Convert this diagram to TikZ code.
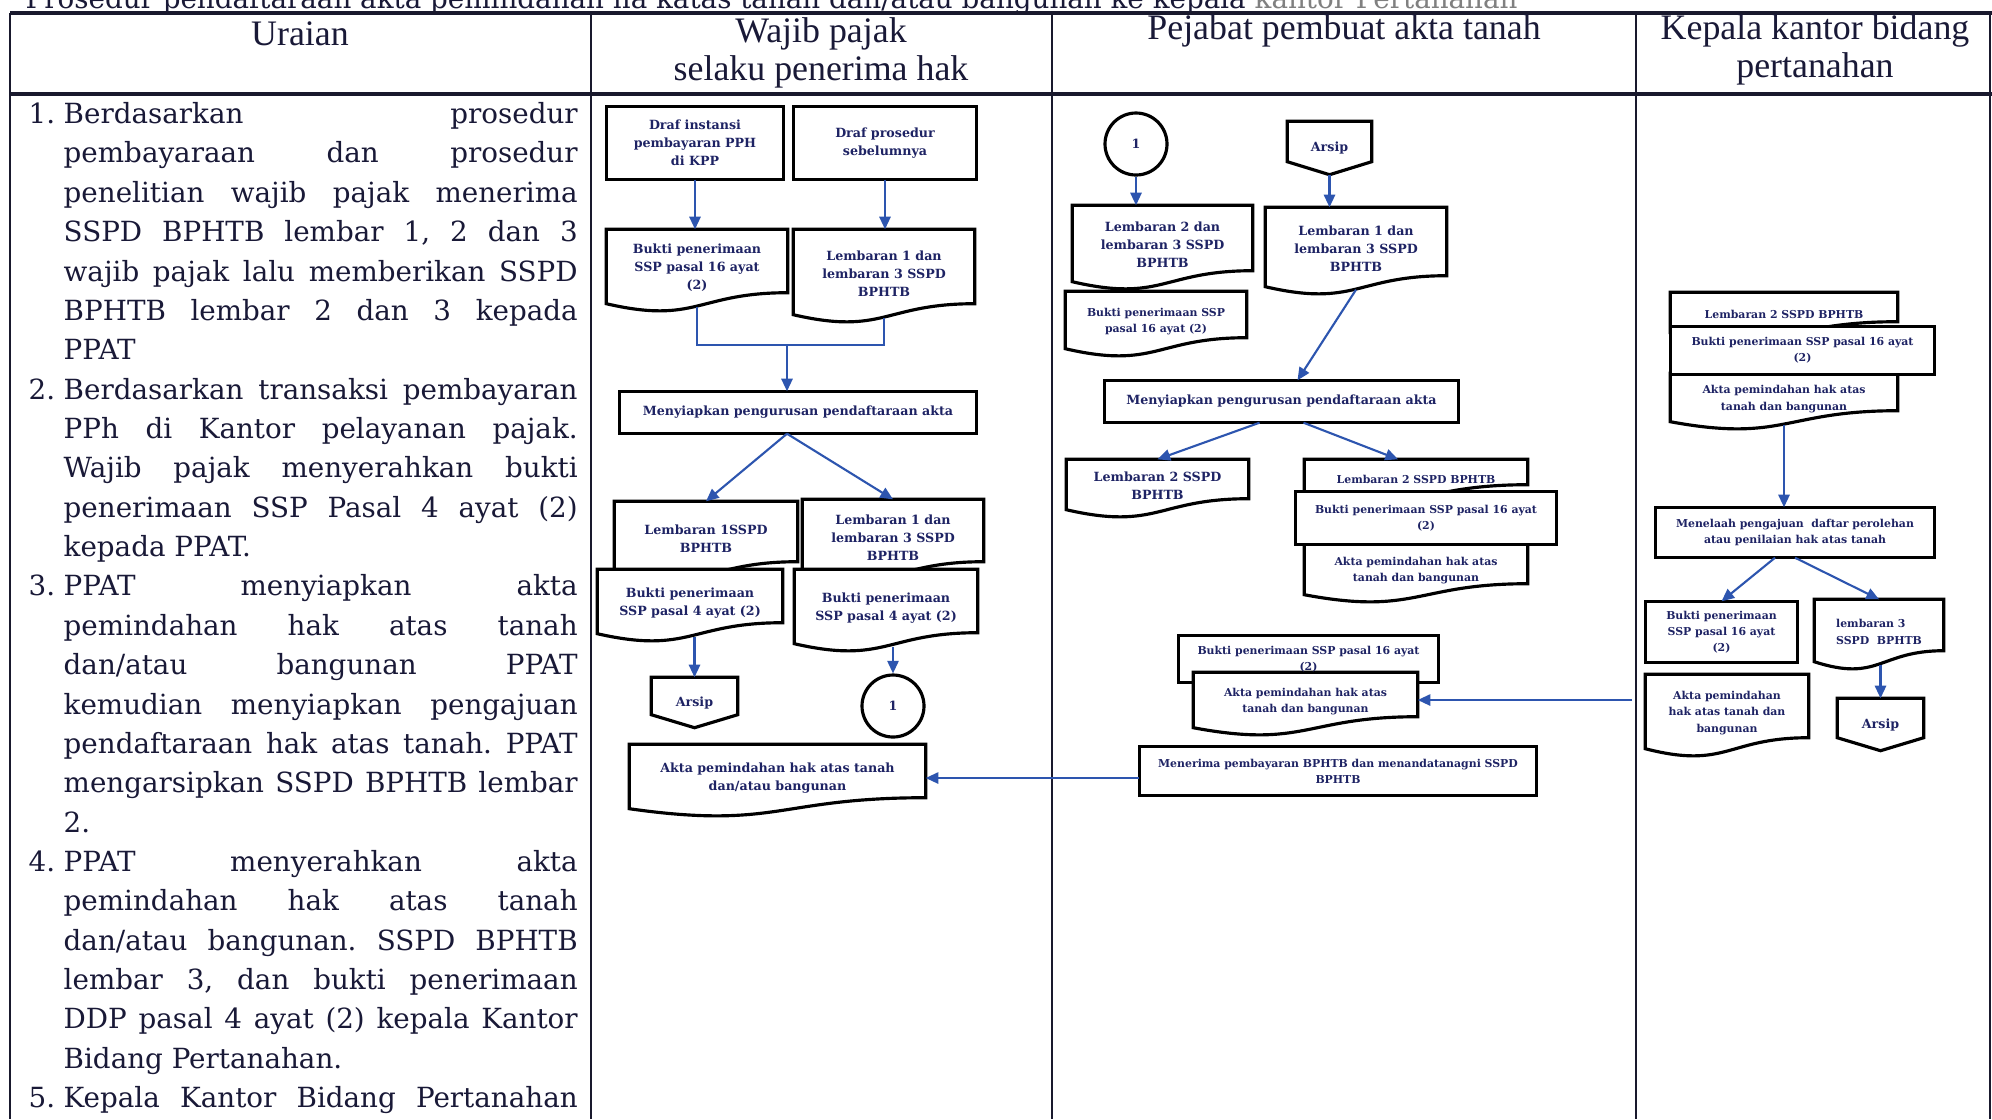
\documentclass[tikz,border=0pt]{standalone}
\usepackage{fontspec}
\setmainfont{DejaVu Serif}
\newfontfamily\headfam{Liberation Serif}
\usetikzlibrary{arrows.meta,calc,backgrounds}

\definecolor{navy}{RGB}{30,35,100}
\definecolor{inkblue}{RGB}{45,85,175}
\definecolor{rulecol}{RGB}{25,25,45}
\definecolor{bodyink}{RGB}{25,25,55}

\newcommand\bodyfont{\fontsize{7.9}{11.2}\selectfont}
\newcommand\headfont{\headfam\fontsize{10.2}{10.8}\selectfont}
\newcommand\boxfont{\bfseries\fontsize{3.6}{5.1}\selectfont}
\newcommand\smallboxfont{\bfseries\fontsize{3.1}{4.6}\selectfont}
\newcommand\num[1]{\leavevmode\llap{\makebox[0.35cm][l]{#1}}}

\begin{document}
\begin{tikzpicture}[y=-1cm,
	txt/.style={inner sep=0pt, align=center, font=\boxfont, text=navy},
	smalltxt/.style={txt, font=\smallboxfont},
	conn/.style={circle, draw=black, line width=0.9pt, fill=white, minimum size=0.62cm, inner sep=0pt, font=\boxfont, text=navy},
	boxline/.style={draw=black, line width=0.9pt, fill=white},
	tabline/.style={draw=rulecol, line width=0.8pt},
	arr/.style={draw=inkblue, line width=0.6pt, -{Triangle[length=3.6pt,width=3.2pt]}},
	link/.style={draw=inkblue, line width=0.6pt},
	head/.style={font=\headfont, text=bodyink, align=center, inner sep=0pt}]
	\path[use as bounding box] (0,0) rectangle (19.92,11.19);
	\clip (0,0) rectangle (19.92,11.19);
	
	%TABLE
	\node[anchor=base west, inner sep=0pt, font=\bodyfont, text=bodyink] (caption) at (0.25,0.08) {Prosedur pendaftaraan akta pemindahan ha katas tanah dan/atau bangunan ke kepala \textcolor{gray}{kantor Pertanahan}};
	\draw[tabline, line width=1.1pt] (0.10,0.13) -- (19.92,0.13);
	\draw[tabline, line width=1.3pt] (0.10,0.94) -- (19.92,0.94);
	\foreach \x in {0.10,5.91,10.52,16.36,19.90} \draw[tabline] (\x,0.13) -- (\x,11.19);
	
	%HEADER
	\node[head] (hUraian) at (3.00,0.34) {Uraian};
	\node[head] (hWajib) at (8.21,0.53) {Wajib pajak\\selaku penerima hak};
	\node[head] (hPejabat) at (13.44,0.31) {Pejabat pembuat akta tanah};
	\node[head] (hKepala) at (18.15,0.50) {Kepala kantor bidang\\pertanahan};
	
	%URAIAN
	\node[anchor=north west, inner sep=0pt, text width=5.14cm, align=justify, font=\bodyfont, text=bodyink] (uraian) at (0.63,0.953) {%
	\tolerance=10000 \hbadness=10000 \frenchspacing
	\strut\num{1.}Berdasarkan prosedur\linebreak
	pembayaraan dan prosedur\linebreak
	penelitian wajib pajak menerima\linebreak
	SSPD BPHTB lembar 1, 2 dan 3\linebreak
	wajib pajak lalu memberikan SSPD\linebreak
	BPHTB lembar 2 dan 3 kepada\linebreak
	PPAT\par
	\num{2.}Berdasarkan transaksi pembayaran\linebreak
	PPh di Kantor pelayanan pajak.\linebreak
	Wajib pajak menyerahkan bukti\linebreak
	penerimaan SSP Pasal 4 ayat (2)\linebreak
	kepada PPAT.\par
	\num{3.}PPAT menyiapkan akta\linebreak
	pemindahan hak atas tanah\linebreak
	dan/atau bangunan PPAT\linebreak
	kemudian menyiapkan pengajuan\linebreak
	pendaftaraan hak atas tanah. PPAT\linebreak
	mengarsipkan SSPD BPHTB lembar\linebreak
	2.\par
	\num{4.}PPAT menyerahkan akta\linebreak
	pemindahan hak atas tanah\linebreak
	dan/atau bangunan. SSPD BPHTB\linebreak
	lembar 3, dan bukti penerimaan\linebreak
	DDP pasal 4 ayat (2) kepala Kantor\linebreak
	Bidang Pertanahan.\par
	\num{5.}Kepala Kantor Bidang Pertanahan\linebreak
	\mbox{}};
	
	%WAJIB PAJAK
	\node[txt, minimum width=1.76cm, minimum height=0.72cm] (A) at (6.95,1.43) {Draf instansi\\pembayaran PPH\\di KPP};
	\node[txt, minimum width=1.82cm, minimum height=0.72cm] (B) at (8.85,1.43) {Draf prosedur\\sebelumnya};
	\node[txt, minimum width=1.80cm, minimum height=0.76cm] (C) at (6.97,2.68) {Bukti penerimaan\\SSP pasal 16 ayat\\(2)};
	\node[txt, minimum width=1.80cm, minimum height=0.87cm] (D) at (8.84,2.735) {Lembaran 1 dan\\lembaran 3 SSPD\\BPHTB};
	\node[txt, minimum width=3.56cm, minimum height=0.41cm] (E) at (7.98,4.125) {Menyiapkan pengurusan pendaftaraan akta};
	\node[txt, minimum width=1.82cm, minimum height=0.73cm] (F) at (7.06,5.385) {Lembaran 1SSPD\\BPHTB};
	\node[txt, minimum width=1.80cm, minimum height=0.75cm] (G) at (8.93,5.375) {Lembaran 1 dan\\lembaran 3 SSPD\\BPHTB};
	\node[txt, minimum width=1.84cm, minimum height=0.66cm] (H) at (6.90,6.03) {Bukti penerimaan\\SSP pasal 4 ayat (2)};
	\node[txt, minimum width=1.82cm, minimum height=0.76cm] (I) at (8.86,6.08) {Bukti penerimaan\\SSP pasal 4 ayat (2)};
	\node[txt, minimum width=0.85cm, minimum height=0.49cm] (J) at (6.945,7.025) {Arsip};
	\node[conn] (K) at (8.93,7.06) {1};
	\node[txt, minimum width=2.95cm, minimum height=0.66cm] (L) at (7.775,7.78) {Akta pemindahan hak atas tanah\\dan/atau bangunan};
	
	%PEJABAT PEMBUAT AKTA TANAH
	\node[conn] (M) at (11.36,1.44) {1};
	\node[txt, minimum width=0.83cm, minimum height=0.52cm] (N) at (13.295,1.48) {Arsip};
	\node[txt, minimum width=1.79cm, minimum height=0.78cm] (O) at (11.625,2.45) {Lembaran 2 dan\\lembaran 3 SSPD\\BPHTB};
	\node[txt, minimum width=1.80cm, minimum height=0.81cm] (P) at (13.56,2.485) {Lembaran 1 dan\\lembaran 3 SSPD\\BPHTB};
	\node[smalltxt, minimum width=1.80cm, minimum height=0.59cm] (Q) at (11.56,3.215) {Bukti penerimaan SSP\\pasal 16 ayat (2)};
	\node[txt, minimum width=3.53cm, minimum height=0.41cm] (R) at (12.815,4.015) {Menyiapkan pengurusan pendaftaraan akta};
	\node[txt, minimum width=1.81cm, minimum height=0.52cm] (S) at (11.575,4.86) {Lembaran 2 SSPD\\BPHTB};
	\node[smalltxt, minimum width=2.22cm, minimum height=0.38cm] (T) at (14.16,4.79) {Lembaran 2 SSPD BPHTB};
	\node[smalltxt, minimum width=2.60cm, minimum height=0.52cm] (U) at (14.26,5.18) {Bukti penerimaan SSP pasal 16 ayat\\(2)};
	\node[smalltxt, minimum width=2.22cm, minimum height=0.53cm] (V) at (14.16,5.705) {Akta pemindahan hak atas\\tanah dan bangunan};
	\node[smalltxt, minimum width=2.59cm, minimum height=0.46cm] (W) at (13.085,6.59) {Bukti penerimaan SSP pasal 16 ayat\\(2)};
	\node[smalltxt, minimum width=2.23cm, minimum height=0.57cm] (X) at (13.055,7.015) {Akta pemindahan hak atas\\tanah dan bangunan};
	\node[smalltxt, minimum width=3.96cm, minimum height=0.48cm] (Y) at (13.38,7.71) {Menerima pembayaran BPHTB dan menandatanagni SSPD\\BPHTB};
	
	%KEPALA KANTOR
	\node[smalltxt, minimum width=2.26cm, minimum height=0.42cm] (Z1) at (17.84,3.14) {Lembaran 2 SSPD BPHTB};
	\node[smalltxt, minimum width=2.63cm, minimum height=0.47cm] (Z2) at (18.025,3.505) {Bukti penerimaan SSP pasal 16 ayat\\(2)};
	\node[smalltxt, minimum width=2.26cm, minimum height=0.50cm] (Z3) at (17.84,3.99) {Akta pemindahan hak atas\\tanah dan bangunan};
	\node[smalltxt, minimum width=2.78cm, minimum height=0.49cm] (Z4) at (17.95,5.325) {Menelaah pengajuan\ \ daftar perolehan\\atau penilaian hak atas tanah};
	\node[smalltxt, minimum width=1.51cm, minimum height=0.60cm] (Z5) at (17.215,6.32) {Bukti penerimaan\\SSP pasal 16 ayat\\(2)};
	\node[smalltxt, minimum width=1.28cm, minimum height=0.64cm, align=left] (Z6) at (18.79,6.32) {lembaran 3\\SSPD\ \ BPHTB};
	\node[smalltxt, minimum width=1.62cm, minimum height=0.76cm] (Z7) at (17.27,7.13) {Akta pemindahan\\hak atas tanah dan\\bangunan};
	\node[txt, minimum width=0.85cm, minimum height=0.51cm] (Z8) at (18.805,7.245) {Arsip};
	
	%ARROWS
	\coordinate (cd) at (7.87,3.45);
	\coordinate (kin) at (16.32,7.0);
	\draw[arr] (A.south) -- (A.south |- C.north);
	\draw[arr] (B.south) -- (B.south |- D.north);
	\draw[link] (C.south) -- (C.south |- cd) -- (D.south |- cd) -- (D.south);
	\draw[arr] (cd) -- (cd |- E.north);
	\draw[arr] (cd |- E.south) -- (F.north);
	\draw[arr] (cd |- E.south) -- (G.north);
	\draw[arr] (J.north |- H.south) -- (J.north);
	\draw[arr] (K.north |- I.south) -- (K.north);
	\draw[arr] (Y.west |- L.east) -- (L.east);
	\draw[arr] (M.south) -- (M.south |- O.north);
	\draw[arr] (N.south) -- (N.south |- P.north);
	\draw[arr] (P.south) -- ([xshift=1.6mm]R.north);
	\draw[arr] ([xshift=-2.2mm]R.south) -- (S.north);
	\draw[arr] ([xshift=2.2mm]R.south) -- ([xshift=-1.8mm]T.north);
	\draw[arr] (kin) -- (kin -| X.east);
	\draw[arr] (Z3.south) -- (Z3.south |- Z4.north);
	\draw[arr] ([xshift=-2mm]Z4.south) -- (Z5.north);
	\draw[arr] (Z4.south) -- (Z6.north);
	\draw[arr] (Z8.north |- Z6.south) -- (Z8.north);
	
	%SHAPES
	\begin{pgfonlayer}{background}
	\fill[white] (0,0) rectangle (19.92,11.19);
	\foreach \n in {A,B,E,R,W,Y,Z4,Z5} \draw[boxline] (\n.north west) rectangle (\n.south east);
	\foreach \n in {C,D,F,G,H,I,L,O,P,Q,S,T,V,X,Z1,Z3,Z6,Z7} \draw[boxline] (\n.north west) -- (\n.north east) -- ($(\n.south east)+(0,-.14)$) .. controls ($(\n.south)+(0,-.14)$) and ($(\n.south)+(0,.18)$) .. ($(\n.south west)+(0,-.03)$) -- cycle;
	\foreach \n in {U,Z2} \draw[boxline] (\n.north west) rectangle (\n.south east);
	\foreach \n in {J,N,Z8} \draw[boxline] (\n.north west) -- (\n.north east) -- ($(\n.south east)+(0,-.13)$) -- (\n.south) -- ($(\n.south west)+(0,-.13)$) -- cycle;
	\end{pgfonlayer}
\end{tikzpicture}
\end{document}
